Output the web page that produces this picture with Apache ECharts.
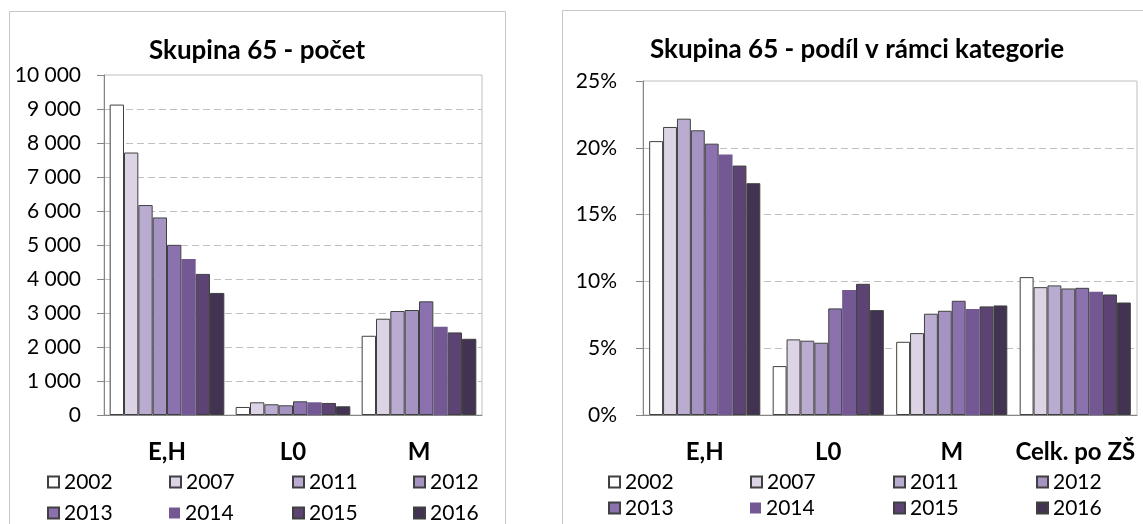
<!DOCTYPE html>
<html>
<head>
<meta charset="utf-8">
<script src="https://cdn.jsdelivr.net/npm/echarts@6/dist/echarts.min.js"></script>
<style>
html,body{margin:0;padding:0;background:#fff}
#main{width:1143px;height:524px}
</style>
</head>
<body>
<div id="main"></div>
<script>
// roky a barvy
var years = ['2002', '2007', '2011', '2012', '2013', '2014', '2015', '2016'];
var colors = ['#FFFFFF', '#DCD3E5', '#BAACD0', '#A593C1', '#8B72AE', '#745894', '#5C4373', '#433352'];

// levy graf - pocet
var catCount = ['E,H', 'L0', 'M'];
var countEH = [9130, 7720, 6175, 5810, 5005, 4590, 4150, 3590];
var countL0 = [236, 374, 315, 285, 403, 374, 354, 256];
var countM = [2330, 2832, 3058, 3088, 3343, 2596, 2429, 2242];

// pravy graf - podil v %
var catShare = ['E,H', 'L0', 'M', 'Celk. po ZŠ'];
var shareEH = [20.5, 21.56, 22.18, 21.31, 20.31, 19.49, 18.67, 17.35];
var shareL0 = [3.66, 5.66, 5.56, 5.41, 7.98, 9.35, 9.82, 7.85];
var shareM = [5.48, 6.13, 7.58, 7.80, 8.55, 7.93, 8.13, 8.20];
var shareTotal = [10.32, 9.57, 9.70, 9.47, 9.52, 9.22, 9.02, 8.42];

var font = 'Lato';
var axisGray = '#868686';

function thousands(v) {
    return String(v).replace(/\B(?=(\d{3})+(?!\d))/g, ' ');
}

var myChart = echarts.init(document.getElementById('main'));

var series = [];
years.forEach(function (y, i) {
    var style = {
        color: colors[i],
        borderColor: '#404040',
        borderWidth: i === 5 ? 0 : 1
    };
    series.push({
        name: y, type: 'bar', xAxisIndex: 0, yAxisIndex: 0,
        barGap: '0%', barCategoryGap: '9%',
        itemStyle: style,
        data: [countEH[i], countL0[i], countM[i]]
    });
    series.push({
        name: y, type: 'bar', xAxisIndex: 1, yAxisIndex: 1,
        barGap: '0%', barCategoryGap: '10%',
        itemStyle: style,
        data: [shareEH[i], shareL0[i], shareM[i], shareTotal[i]]
    });
});

// legendy - kazda polozka zvlast, 2 radky po 4
var legends = [];
var leftX = [47, 169, 292, 413];
var rightX = [608, 750, 893, 1036];
years.forEach(function (y, i) {
    var col = i % 4, row = Math.floor(i / 4);
    var base = {
        data: [y], icon: 'rect', itemWidth: 11, itemHeight: 11, padding: 0,
        textStyle: {fontFamily: font, fontSize: 21, color: '#000', lineHeight: 24}
    };
    legends.push(echarts.util.extend({left: leftX[col], top: row ? 501 : 470}, base));
    legends.push(echarts.util.extend({left: rightX[col], top: row ? 496 : 470}, base));
});

function xAxisFor(cats, idx) {
    return {
        type: 'category', gridIndex: idx, data: cats,
        axisLine: {lineStyle: {color: axisGray}},
        axisTick: {length: 7, lineStyle: {color: axisGray}},
        axisLabel: {interval: 0, fontFamily: font, fontSize: 24, fontWeight: 'bold', color: '#000', margin: 23, lineHeight: 28}
    };
}
function yAxisFor(idx, max, interval, fmt, margin) {
    return {
        type: 'value', gridIndex: idx, min: 0, max: max, interval: interval,
        axisLine: {show: true, lineStyle: {color: axisGray}},
        axisTick: {show: true, length: 7, lineStyle: {color: axisGray}},
        axisLabel: {fontFamily: font, fontSize: 21, color: '#000', margin: margin, formatter: fmt},
        splitLine: {show: true, showMinLine: false, showMaxLine: false, lineStyle: {color: '#BFBFBF', type: [7, 4]}}
    };
}

var option = {
    animation: false,
    backgroundColor: '#fff',
    title: [
        {text: 'Skupina 65 - počet', left: 257, textAlign: 'center', top: 38, padding: 0,
            textStyle: {fontFamily: font, fontSize: 26, fontWeight: 'bold', color: '#000'}},
        {text: 'Skupina 65 - podíl v rámci kategorie', left: 857, textAlign: 'center', top: 37, padding: 0,
            textStyle: {fontFamily: font, fontSize: 26, fontWeight: 'bold', color: '#000'}}
    ],
    legend: legends,
    grid: [
        {left: 104, top: 75, width: 378, height: 340, show: true, borderColor: '#BFBFBF', borderWidth: 1},
        {left: 643, top: 81, width: 494, height: 334, show: true, borderColor: '#BFBFBF', borderWidth: 1}
    ],
    xAxis: [xAxisFor(catCount, 0), xAxisFor(catShare, 1)],
    yAxis: [
        yAxisFor(0, 10000, 1000, thousands, 23),
        yAxisFor(1, 25, 5, function (v) { return v + '%'; }, 26)
    ],
    graphic: [
        {type: 'rect', shape: {x: 9.5, y: 11.5, width: 496, height: 530}, style: {fill: 'none', stroke: '#C6C6C6', lineWidth: 1}, silent: true},
        {type: 'rect', shape: {x: 562.5, y: 10.5, width: 600, height: 530}, style: {fill: 'none', stroke: '#C6C6C6', lineWidth: 1}, silent: true}
    ],
    series: series
};

myChart.setOption(option);
</script>
</body>
</html>
